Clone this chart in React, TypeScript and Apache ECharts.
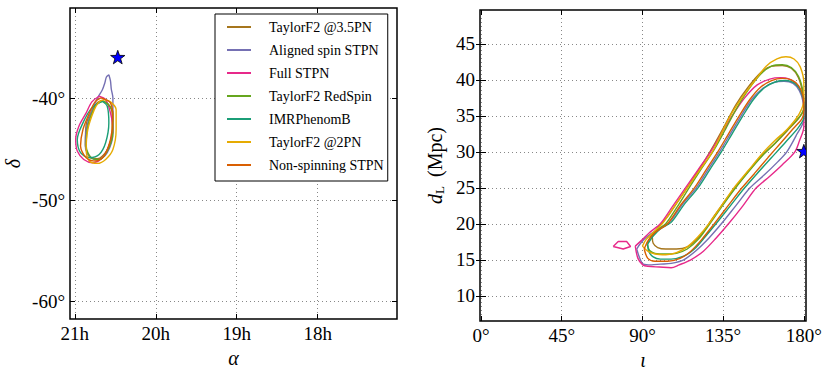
import React, { useEffect, useRef } from "react";
import * as echarts from "echarts";

// ---------- data ----------
const modelNames = [
  "TaylorF2 @3.5PN",
  "Aligned spin STPN",
  "Full STPN",
  "TaylorF2 RedSpin",
  "IMRPhenomB",
  "TaylorF2 @2PN",
  "Non-spinning STPN",
];

// sky-position 90% contours: [right ascension (h), declination (deg)]
const skyTaylorF235 = [[20.67,-40.18],[20.59,-40.54],[20.54,-41.42],[20.54,-43.38],[20.61,-45.18],[20.72,-45.93],[20.82,-45.74],[20.87,-44.53],[20.86,-42.57],[20.77,-40.93],[20.72,-40.39],[20.67,-40.18]];
const skyAligned = [[20.58,-37.67],[20.56,-38.28],[20.55,-39.07],[20.53,-39.95],[20.53,-41.42],[20.53,-43.38],[20.60,-45.34],[20.72,-46.06],[20.82,-45.67],[20.87,-44.69],[20.86,-43.06],[20.80,-41.42],[20.72,-39.95],[20.66,-39.14],[20.63,-38.48],[20.61,-37.89],[20.58,-37.67]];
const skyFull = [[20.70,-39.78],[20.62,-40.12],[20.56,-41.42],[20.53,-43.06],[20.58,-44.69],[20.66,-45.83],[20.78,-46.32],[20.89,-46.0],[20.97,-45.18],[20.99,-44.04],[20.95,-42.73],[20.86,-41.42],[20.79,-40.34],[20.70,-39.78]];
const skyRedSpin = [[20.65,-40.27],[20.58,-40.64],[20.53,-41.42],[20.53,-43.38],[20.60,-45.18],[20.70,-46.0],[20.80,-45.83],[20.86,-44.69],[20.84,-42.73],[20.76,-40.93],[20.71,-40.44],[20.65,-40.27]];
const skyIMR = [[20.66,-40.27],[20.60,-40.76],[20.58,-42.40],[20.62,-44.36],[20.70,-45.51],[20.82,-45.83],[20.93,-45.34],[20.97,-44.04],[20.90,-42.40],[20.79,-40.93],[20.66,-40.27]];
const skyTaylorF22 = [[20.64,-40.12],[20.56,-40.34],[20.49,-41.10],[20.49,-43.06],[20.53,-45.02],[20.62,-46.0],[20.72,-46.39],[20.82,-46.16],[20.86,-45.02],[20.84,-43.06],[20.76,-41.10],[20.70,-40.34],[20.64,-40.12]];
const skyNonSpin = [[20.68,-39.95],[20.56,-40.44],[20.53,-42.08],[20.56,-44.04],[20.64,-45.67],[20.74,-46.16],[20.86,-45.83],[20.93,-44.69],[20.90,-43.06],[20.82,-41.42],[20.75,-40.34],[20.68,-39.95]];
const skyInjection = [[20.47, -36.0]];

// inclination / distance 90% contours: [iota (deg), d_L (Mpc)]
const incTaylorF235 = [[95.5,18.2],[99,19.6],[104,21],[110,23.2],[117,25.8],[124,28.5],[130,31],[136,33.7],[142,36.5],[149,39],[156,41],[162,41.9],[168,42],[173,41.6],[177,40.3],[179.5,38],[180,36],[177.5,34.8],[171,33],[164,31.2],[157,29.6],[149,27.3],[141,24.8],[134,22.5],[127,20],[121,18],[115,16.8],[109,16.5],[103,16.5],[98.5,16.7],[96,17.3],[95.5,18.2]];
const incAligned = [[86.8,16.5],[89,17.3],[93,18.3],[99,19.3],[105,20.2],[112,22.6],[120,25],[126.5,27.5],[133,30],[139,32.5],[145,35],[151,37.3],[157,38.8],[163,39.6],[169,39.8],[174,39.5],[177.5,38.5],[179.5,37],[180,34.5],[176,32.4],[170.5,30],[165,28.5],[158,26.8],[150,25],[142,22.5],[134,20],[127,18],[120,16.3],[113,15],[106,14.5],[100,14.4],[95,14.3],[90.5,14.4],[88.7,15.1],[86.8,16.5]];
const incFull = [[86,16.9],[89.5,17.7],[94,18.8],[100,20],[107,22.5],[114,25],[121,27.5],[128,30],[134,32.5],[140,35],[147,37.5],[154,39.3],[161,40.1],[167,40.3],[172,40.1],[176,39.4],[179,38],[180,36],[180,33.5],[177.5,31.5],[175,30],[168,28.2],[161,26.6],[153.5,25],[146,22.5],[138,20],[131,18],[124,16.2],[117,15],[110.5,14.3],[106,13.9],[99.5,14],[93,14.1],[90.2,14.3],[87.5,15.2],[86,16.9]];
const incFullIsland = [[73.7,16.85],[76.5,17.55],[81.2,17.55],[83.4,16.85],[79.3,16.5],[73.7,16.85]];
const incRedSpin = [[92.5,17.2],[95,18.3],[99,19.3],[103,20],[109,22.2],[116,25],[123,27.7],[130,30.3],[136,33],[142,35.8],[149,38.6],[156,40.8],[162,41.9],[168,42.1],[173,41.7],[177,40.5],[179.5,38.4],[180,36.3],[178,35],[171,33.1],[164,31.2],[157,29.5],[149,27.2],[141,24.7],[134,22.3],[127,19.8],[121,17.8],[115,16.5],[109,15.9],[103,15.8],[97,15.9],[94,16.3],[92.5,17.2]];
const incIMR = [[93,17.2],[96,18.3],[100,19.3],[106,20.2],[113,22.6],[121,25],[127.5,27.5],[134,30],[140,32.5],[146,35],[152,37.3],[158,38.9],[164,39.7],[170,39.9],[175,39.5],[178.5,38.3],[180,36.5],[180,34.8],[177,33.4],[170,31.4],[162,29.2],[154,27],[147,25],[139,22.5],[131,20],[125,18.2],[119,16.5],[113,15.5],[106,15.1],[100,15.1],[96,15.4],[93.5,16.2],[93,17.2]];
const incTaylorF22 = [[90,16.9],[92,17.8],[96,18.8],[101,20],[108,22.5],[115,25],[122,27.5],[129,30],[134,32.5],[139,35],[146,37.7],[153,40],[159,41.9],[165,42.9],[170,43.2],[174.5,42.9],[178,41.8],[180,39.5],[180,37.3],[177.5,35.3],[171,33.2],[164,31.6],[157,29.8],[149,27.4],[141,25],[134,22.5],[127,20],[121,18.2],[115,16.8],[109,16],[103,15.7],[97,15.8],[93,16.2],[90,16.9]];
const incNonSpin = [[91,16.5],[93,17.6],[97,18.8],[104,20],[111,22.5],[119,25],[125.5,27.5],[132,30],[138,32.5],[144,35],[150,37.3],[156,39],[162,39.9],[168,40.2],[173,40],[177,39.2],[179.5,37.8],[180,35.8],[179,34.6],[174,33.2],[167,31.2],[160,29.2],[152.5,27],[145.5,25],[138,22.6],[130,20],[123,17.8],[117,16.2],[111,15.2],[104,14.8],[97,14.8],[93,15.2],[91,16.5]];
const incInjection = [[180, 30]];

// tick values
const raTicks = [18, 19, 20, 21];
const decTicks = [-60, -50, -40];
const incTicks = [0, 45, 90, 135, 180];
const distTicks = [10, 15, 20, 25, 30, 35, 40, 45];

// ---------- styles ----------
const modelColors = ["#a6761d", "#7570b3", "#e7298a", "#66a61e", "#1b9e77", "#e6ab02", "#d95f02"];
const SERIF = "'Liberation Serif', 'DejaVu Serif', serif";

const skyContours = [skyTaylorF235, skyAligned, skyFull, skyRedSpin, skyIMR, skyTaylorF22, skyNonSpin];
const incContours = [incTaylorF235, incAligned, incFull, incRedSpin, incIMR, incTaylorF22, incNonSpin];

function starItem(params: any, api: any) {
  const p = api.coord([api.value(0), api.value(1)]);
  const R = 7.5;
  const pts: number[][] = [];
  for (let i = 0; i < 10; i++) {
    const r = i % 2 === 0 ? R : R * 0.4;
    const a = -Math.PI / 2 + (i * Math.PI) / 5;
    pts.push([p[0] + r * Math.cos(a), p[1] + r * Math.sin(a)]);
  }
  return {
    type: "polygon",
    shape: { points: pts },
    style: { fill: "#0000ff", stroke: "#000", lineWidth: 0.8 },
  };
}

const gridLineStyle = { show: true, lineStyle: { color: "#888", type: [1, 3], width: 1 } };
const labelStyle = { fontFamily: SERIF, fontSize: 19, color: "#000" };

function mainAxis(extra: any, ticks: number[], fmt: (v: number) => string) {
  return {
    type: "value",
    axisLine: { show: false },
    axisTick: { show: true, inside: true, length: 5, customValues: ticks, lineStyle: { color: "#000", width: 1 } },
    axisLabel: { ...labelStyle, customValues: ticks, formatter: fmt, margin: 5 },
    splitLine: gridLineStyle,
    ...extra,
  };
}
function mirrorAxis(extra: any, ticks: number[]) {
  return {
    type: "value",
    axisLine: { show: false },
    axisTick: { show: true, inside: true, length: 5, customValues: ticks, lineStyle: { color: "#000", width: 1 } },
    axisLabel: { show: false },
    splitLine: { show: false },
    ...extra,
  };
}

export default function App() {
  const ref = useRef<HTMLDivElement>(null);
  useEffect(() => {
    if (!ref.current) return;
    const chart = echarts.init(ref.current, null, { renderer: "svg" });

    const series: any[] = [];
    modelNames.forEach((name, i) => {
      const common = {
        type: "line",
        name,
        showSymbol: false,
        symbol: "none",
        smooth: 0.3,
        clip: true,
        lineStyle: { width: 1.4, color: modelColors[i] },
        itemStyle: { color: modelColors[i] },
        z: 2 + i,
      };
      series.push({ ...common, xAxisIndex: 0, yAxisIndex: 0, data: skyContours[i] });
      series.push({ ...common, xAxisIndex: 2, yAxisIndex: 2, data: incContours[i] });
      if (name === "Full STPN") {
        series.push({ ...common, smooth: 0, xAxisIndex: 2, yAxisIndex: 2, data: incFullIsland });
      }
    });
    series.push({ type: "custom", name: "injection-sky", xAxisIndex: 0, yAxisIndex: 0, data: skyInjection, renderItem: starItem, clip: true, z: 20 });
    series.push({ type: "custom", name: "injection-inc", xAxisIndex: 2, yAxisIndex: 2, data: incInjection, renderItem: starItem, clip: true, z: 20 });

    const option: any = {
      animation: false,
      backgroundColor: "#fff",
      grid: [
        { left: 70, top: 8, width: 327, height: 311, show: true, borderColor: "#000", borderWidth: 1.5, backgroundColor: "transparent" },
        { left: 480, top: 10, width: 326, height: 311, show: true, borderColor: "#000", borderWidth: 1.5, backgroundColor: "transparent" },
      ],
      xAxis: [
        mainAxis({ gridIndex: 0, position: "bottom", inverse: true, min: 17.02, max: 21.06,
          name: "α", nameLocation: "middle", nameGap: 17,
          nameTextStyle: { fontFamily: SERIF, fontSize: 20, fontStyle: "italic", color: "#000" } }, raTicks, (v) => `${v}h`),
        mirrorAxis({ gridIndex: 0, position: "top", inverse: true, min: 17.02, max: 21.06 }, raTicks),
        mainAxis({ gridIndex: 1, position: "bottom", min: -0.56, max: 181.2,
          name: "ι", nameLocation: "middle", nameGap: 25,
          nameTextStyle: { fontFamily: SERIF, fontSize: 20, fontStyle: "italic", color: "#000" } }, incTicks, (v) => `${v}°`),
        mirrorAxis({ gridIndex: 1, position: "top", min: -0.56, max: 181.2 }, incTicks),
      ],
      yAxis: [
        mainAxis({ gridIndex: 0, position: "left", min: -61.7, max: -31.1,
          name: "δ", nameLocation: "middle", nameGap: 47,
          nameTextStyle: { fontFamily: SERIF, fontSize: 20, fontStyle: "italic", color: "#000" } }, decTicks, (v) => `${v}°`),
        mirrorAxis({ gridIndex: 0, position: "right", min: -61.7, max: -31.1 }, decTicks),
        mainAxis({ gridIndex: 1, position: "left", min: 6.5, max: 49.7,
          name: "{i|d}{s|L} (Mpc)", nameLocation: "middle", nameGap: 34,
          nameTextStyle: { fontFamily: SERIF, fontSize: 20, color: "#000",
            rich: {
              i: { fontFamily: SERIF, fontSize: 20, fontStyle: "italic", color: "#000" },
              s: { fontFamily: SERIF, fontSize: 13, color: "#000", padding: [10, 4, 0, 0] },
            } } }, distTicks, (v) => `${v}`),
        mirrorAxis({ gridIndex: 1, position: "right", min: 6.5, max: 49.7 }, distTicks),
      ],
      legend: {
        data: modelNames,
        orient: "vertical",
        left: 215,
        top: 14,
        itemWidth: 24,
        itemHeight: 2,
        icon: "rect",
        itemGap: 7,
        padding: [5, 4, 8, 12],
        borderColor: "#000",
        borderWidth: 1,
        backgroundColor: "#fff",
        selectedMode: false,
        z: 30,
        textStyle: { fontFamily: SERIF, fontSize: 14, color: "#000", lineHeight: 16, padding: [0, 0, 0, 13] },
      },
      series,
    };
    chart.setOption(option);
    return () => chart.dispose();
  }, []);
  return <div ref={ref} style={{ position: "absolute", left: 0, top: 0, width: 831, height: 376 }} />;
}
